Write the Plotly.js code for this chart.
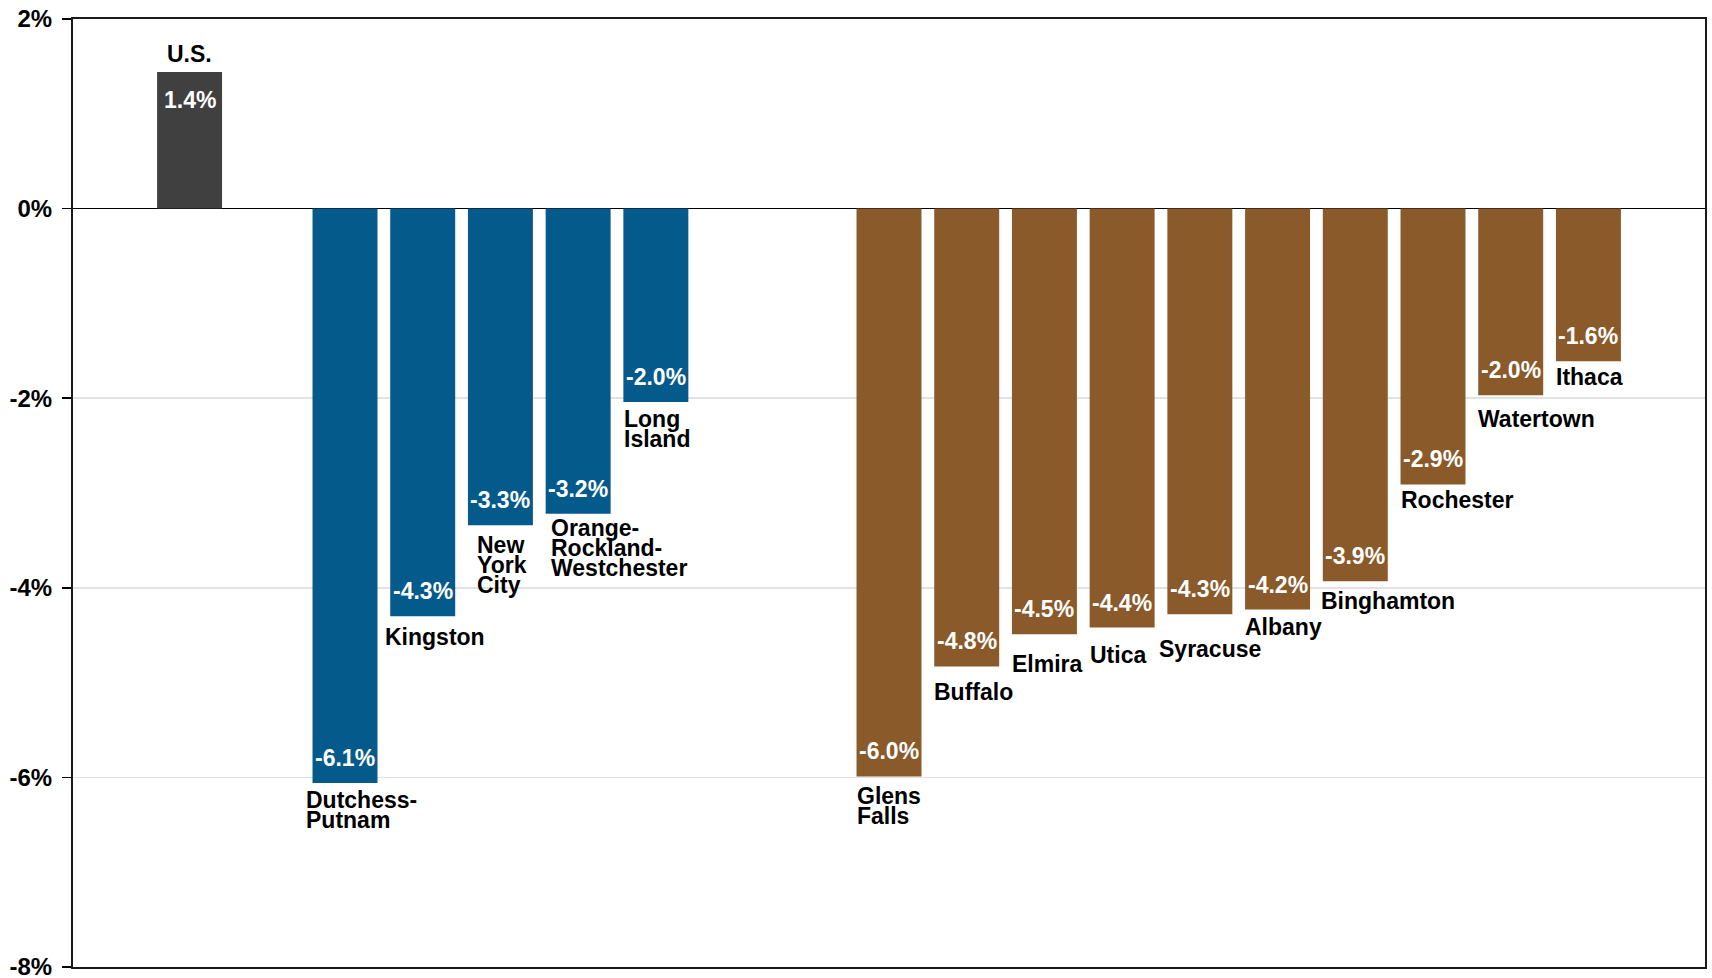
<!DOCTYPE html>
<html>
<head>
<meta charset="utf-8">
<script src="https://cdn.plot.ly/plotly-3.0.1.min.js"></script>
<style>
  html, body { margin: 0; padding: 0; background: #ffffff; }
  #chart { width: 1712px; height: 978px; }
</style>
</head>
<body>
<div id="chart"></div>
<script>
// ---- Data ----
const categories = ['U.S.', 'Dutchess-<br>Putnam', 'Kingston', 'New<br>York<br>City',
  'Orange-<br>Rockland-<br>Westchester', 'Long<br>Island', 'Glens<br>Falls', 'Buffalo',
  'Elmira', 'Utica', 'Syracuse', 'Albany', 'Binghamton', 'Rochester', 'Watertown', 'Ithaca'];
const values = [1.44, -6.06, -4.30, -3.34, -3.22, -2.04, -5.99, -4.83, -4.49, -4.42,
  -4.28, -4.23, -3.93, -2.91, -1.97, -1.61];
const regions = ['U.S.', 'Downstate', 'Downstate', 'Downstate', 'Downstate', 'Downstate',
  'Upstate', 'Upstate', 'Upstate', 'Upstate', 'Upstate', 'Upstate', 'Upstate', 'Upstate',
  'Upstate', 'Upstate'];
const yTickVals = [2, 0, -2, -4, -6, -8];
const yTickText = ['2%', '0%', '-2%', '-4%', '-6%', '-8%'];

// ---- Styles ----
const regionColor = { 'U.S.': '#404040', 'Downstate': '#055a8c', 'Upstate': '#8b5a2b' };
const gapSlots = { 'Downstate': 1, 'Upstate': 2 };
// label nudges (px): horizontal offset from bar left edge, vertical gap below bar end
const labelDx = [0, -7, -5, 9, 5, 1, 0, 0, 0, 0, -8, 0, -2, 0, 0, 0];
const labelDy = [0, 7, 11, 10, 4, 7, 10, 16, 20, 17, 25, 7, 10, 6, 14, 6];

const FONT = 'Arial, "Liberation Sans", sans-serif';
const BAR_W = 0.836;
const SLOT_PX = 1632 / 21;
const HALF_BAR_PX = BAR_W * SLOT_PX / 2;
const LINE_H = 20;
const CAP_PAD = 5;

// category order with spacer slots between groups
const catOrder = ['gap_lead'];
let prev = null, g = 0;
categories.forEach((c, i) => {
  if (prev !== null && regions[i] !== prev) {
    for (let k = 0; k < (gapSlots[regions[i]] || 1); k++) catOrder.push('gap_' + (g++));
  }
  catOrder.push(c);
  prev = regions[i];
});
catOrder.push('gap_trail');

const trace = {
  type: 'bar',
  x: categories,
  y: values,
  width: BAR_W,
  marker: { color: regions.map(r => regionColor[r]), line: { width: 0 } },
  hoverinfo: 'skip',
  showlegend: false
};

const annotations = [];
categories.forEach((c, i) => {
  const v = values[i];
  // value label inside bar end
  annotations.push({
    x: c, y: v, xref: 'x', yref: 'y',
    text: v.toFixed(1) + '%',
    showarrow: false,
    xanchor: 'center', yanchor: 'middle',
    yshift: v >= 0 ? -28 : 25,
    font: { family: FONT, size: 23, color: '#ffffff', weight: 'bold' }
  });
  // category label
  if (v >= 0) {
    annotations.push({
      x: c, y: v, xref: 'x', yref: 'y',
      text: c, showarrow: false,
      xanchor: 'center', yanchor: 'bottom', yshift: 3,
      font: { family: FONT, size: 23, color: '#000000', weight: 'bold' }
    });
  } else {
    c.split('<br>').forEach((line, j) => {
      annotations.push({
        x: c, y: v, xref: 'x', yref: 'y',
        text: line, showarrow: false,
        xanchor: 'left', yanchor: 'top', align: 'left',
        xshift: -HALF_BAR_PX + labelDx[i] - 2,
        yshift: -(labelDy[i] - CAP_PAD + j * LINE_H),
        font: { family: FONT, size: 23, color: '#000000', weight: 'bold' }
      });
    });
  }
});

const layout = {
  width: 1712, height: 978,
  margin: { l: 73, r: 7, t: 19, b: 11, pad: 0 },
  paper_bgcolor: '#ffffff', plot_bgcolor: '#ffffff',
  font: { family: FONT, color: '#000000' },
  showlegend: false,
  xaxis: {
    type: 'category',
    categoryorder: 'array', categoryarray: catOrder,
    range: [-0.5, catOrder.length - 0.5],
    showticklabels: false, ticks: '', showgrid: false, zeroline: false,
    showline: true, mirror: true, linecolor: '#1a1a1a', linewidth: 2,
    fixedrange: true
  },
  yaxis: {
    range: [-8, 2],
    tickvals: yTickVals, ticktext: yTickText,
    ticks: 'outside', ticklen: 9, tickwidth: 1.5, tickcolor: '#000000',
    ticklabelstandoff: 5,
    ticklabeloverflow: 'allow',
    tickfont: { family: FONT, size: 24, color: '#000000', weight: 'bold' },
    showgrid: true, gridcolor: '#e2e2e2', gridwidth: 1.5,
    zeroline: true, zerolinecolor: '#000000', zerolinewidth: 1.5,
    showline: true, mirror: true, linecolor: '#1a1a1a', linewidth: 2,
    fixedrange: true
  },
  annotations: annotations
};

Plotly.newPlot('chart', [trace], layout, { staticPlot: true, displayModeBar: false });
</script>
</body>
</html>
